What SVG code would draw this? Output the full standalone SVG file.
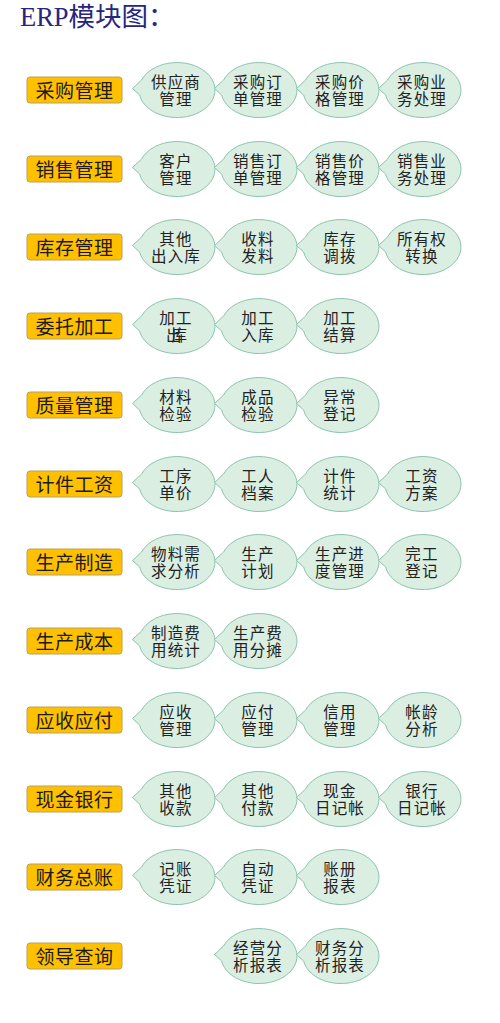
<svg xmlns="http://www.w3.org/2000/svg" xmlns:xlink="http://www.w3.org/1999/xlink" width="500" height="1023" viewBox="0 0 500 1023">
<style>
.title{font-family:"Liberation Serif","Noto Sans CJK SC",serif;font-size:26.5px;fill:#26267f}
.box{fill:#ffc000;stroke:#b9a060;stroke-width:1}
.bl{font-family:"Noto Sans CJK SC",sans-serif;font-size:19px;fill:#1a1a1a;text-anchor:middle;dominant-baseline:central;letter-spacing:0.5px}
.b{fill:#daeee2;stroke:#8cc4af;stroke-width:1}
.t{font-family:"Noto Sans CJK SC",sans-serif;font-size:15.5px;fill:#222;text-anchor:middle;dominant-baseline:central;letter-spacing:1.2px}
</style>
<defs>
<path id="bub" d="M -35.4,-10 A 38 27.5 0 1 1 -37.4,5 L -44.5,-1.5 Z"/>
<rect id="mbox" x="-47.5" y="-13" width="95" height="26" rx="3"/>
</defs>
<text class="title" x="20" y="26">ERP模块图：</text>

<g id="row1">
<g id="m1"><use xlink:href="#mbox" x="74.5" y="90" class="box"/><text class="bl" x="74.5" y="89">采购管理</text></g>
<g id="n1-1"><use xlink:href="#bub" x="177" y="90" class="b"/><text class="t" x="176" y="80.5">供应商</text><text class="t" x="176" y="97.5">管理</text></g>
<g id="n1-2"><use xlink:href="#bub" x="259" y="90" class="b"/><text class="t" x="258" y="80.5">采购订</text><text class="t" x="258" y="97.5">单管理</text></g>
<g id="n1-3"><use xlink:href="#bub" x="341" y="90" class="b"/><text class="t" x="340" y="80.5">采购价</text><text class="t" x="340" y="97.5">格管理</text></g>
<g id="n1-4"><use xlink:href="#bub" x="423" y="90" class="b"/><text class="t" x="422" y="80.5">采购业</text><text class="t" x="422" y="97.5">务处理</text></g>
</g>

<g id="row2">
<g id="m2"><use xlink:href="#mbox" x="74.5" y="169" class="box"/><text class="bl" x="74.5" y="168">销售管理</text></g>
<g id="n2-1"><use xlink:href="#bub" x="177" y="169" class="b"/><text class="t" x="176" y="159.5">客户</text><text class="t" x="176" y="176.5">管理</text></g>
<g id="n2-2"><use xlink:href="#bub" x="259" y="169" class="b"/><text class="t" x="258" y="159.5">销售订</text><text class="t" x="258" y="176.5">单管理</text></g>
<g id="n2-3"><use xlink:href="#bub" x="341" y="169" class="b"/><text class="t" x="340" y="159.5">销售价</text><text class="t" x="340" y="176.5">格管理</text></g>
<g id="n2-4"><use xlink:href="#bub" x="423" y="169" class="b"/><text class="t" x="422" y="159.5">销售业</text><text class="t" x="422" y="176.5">务处理</text></g>
</g>

<g id="row3">
<g id="m3"><use xlink:href="#mbox" x="74.5" y="247" class="box"/><text class="bl" x="74.5" y="246">库存管理</text></g>
<g id="n3-1"><use xlink:href="#bub" x="177" y="247" class="b"/><text class="t" x="176" y="237.5">其他</text><text class="t" x="176" y="254.5">出入库</text></g>
<g id="n3-2"><use xlink:href="#bub" x="259" y="247" class="b"/><text class="t" x="258" y="237.5">收料</text><text class="t" x="258" y="254.5">发料</text></g>
<g id="n3-3"><use xlink:href="#bub" x="341" y="247" class="b"/><text class="t" x="340" y="237.5">库存</text><text class="t" x="340" y="254.5">调拨</text></g>
<g id="n3-4"><use xlink:href="#bub" x="423" y="247" class="b"/><text class="t" x="422" y="237.5">所有权</text><text class="t" x="422" y="254.5">转换</text></g>
</g>

<g id="row4">
<g id="m4"><use xlink:href="#mbox" x="74.5" y="326" class="box"/><text class="bl" x="74.5" y="325">委托加工</text></g>
<g id="n4-1"><use xlink:href="#bub" x="177" y="326" class="b"/><text class="t" x="176" y="316.5">加工</text><text class="t" x="166" y="333.5" style="text-anchor:start;letter-spacing:-10px">出库</text></g>
<g id="n4-2"><use xlink:href="#bub" x="259" y="326" class="b"/><text class="t" x="258" y="316.5">加工</text><text class="t" x="258" y="333.5">入库</text></g>
<g id="n4-3"><use xlink:href="#bub" x="341" y="326" class="b"/><text class="t" x="340" y="316.5">加工</text><text class="t" x="340" y="333.5">结算</text></g>
</g>

<g id="row5">
<g id="m5"><use xlink:href="#mbox" x="74.5" y="405" class="box"/><text class="bl" x="74.5" y="404">质量管理</text></g>
<g id="n5-1"><use xlink:href="#bub" x="177" y="405" class="b"/><text class="t" x="176" y="395.5">材料</text><text class="t" x="176" y="412.5">检验</text></g>
<g id="n5-2"><use xlink:href="#bub" x="259" y="405" class="b"/><text class="t" x="258" y="395.5">成品</text><text class="t" x="258" y="412.5">检验</text></g>
<g id="n5-3"><use xlink:href="#bub" x="341" y="405" class="b"/><text class="t" x="340" y="395.5">异常</text><text class="t" x="340" y="412.5">登记</text></g>
</g>

<g id="row6">
<g id="m6"><use xlink:href="#mbox" x="74.5" y="484" class="box"/><text class="bl" x="74.5" y="483">计件工资</text></g>
<g id="n6-1"><use xlink:href="#bub" x="177" y="484" class="b"/><text class="t" x="176" y="474.5">工序</text><text class="t" x="176" y="491.5">单价</text></g>
<g id="n6-2"><use xlink:href="#bub" x="259" y="484" class="b"/><text class="t" x="258" y="474.5">工人</text><text class="t" x="258" y="491.5">档案</text></g>
<g id="n6-3"><use xlink:href="#bub" x="341" y="484" class="b"/><text class="t" x="340" y="474.5">计件</text><text class="t" x="340" y="491.5">统计</text></g>
<g id="n6-4"><use xlink:href="#bub" x="423" y="484" class="b"/><text class="t" x="422" y="474.5">工资</text><text class="t" x="422" y="491.5">方案</text></g>
</g>

<g id="row7">
<g id="m7"><use xlink:href="#mbox" x="74.5" y="562" class="box"/><text class="bl" x="74.5" y="561">生产制造</text></g>
<g id="n7-1"><use xlink:href="#bub" x="177" y="562" class="b"/><text class="t" x="176" y="552.5">物料需</text><text class="t" x="176" y="569.5">求分析</text></g>
<g id="n7-2"><use xlink:href="#bub" x="259" y="562" class="b"/><text class="t" x="258" y="552.5">生产</text><text class="t" x="258" y="569.5">计划</text></g>
<g id="n7-3"><use xlink:href="#bub" x="341" y="562" class="b"/><text class="t" x="340" y="552.5">生产进</text><text class="t" x="340" y="569.5">度管理</text></g>
<g id="n7-4"><use xlink:href="#bub" x="423" y="562" class="b"/><text class="t" x="422" y="552.5">完工</text><text class="t" x="422" y="569.5">登记</text></g>
</g>

<g id="row8">
<g id="m8"><use xlink:href="#mbox" x="74.5" y="641" class="box"/><text class="bl" x="74.5" y="640">生产成本</text></g>
<g id="n8-1"><use xlink:href="#bub" x="177" y="641" class="b"/><text class="t" x="176" y="631.5">制造费</text><text class="t" x="176" y="648.5">用统计</text></g>
<g id="n8-2"><use xlink:href="#bub" x="259" y="641" class="b"/><text class="t" x="258" y="631.5">生产费</text><text class="t" x="258" y="648.5">用分摊</text></g>
</g>

<g id="row9">
<g id="m9"><use xlink:href="#mbox" x="74.5" y="720" class="box"/><text class="bl" x="74.5" y="719">应收应付</text></g>
<g id="n9-1"><use xlink:href="#bub" x="177" y="720" class="b"/><text class="t" x="176" y="710.5">应收</text><text class="t" x="176" y="727.5">管理</text></g>
<g id="n9-2"><use xlink:href="#bub" x="259" y="720" class="b"/><text class="t" x="258" y="710.5">应付</text><text class="t" x="258" y="727.5">管理</text></g>
<g id="n9-3"><use xlink:href="#bub" x="341" y="720" class="b"/><text class="t" x="340" y="710.5">信用</text><text class="t" x="340" y="727.5">管理</text></g>
<g id="n9-4"><use xlink:href="#bub" x="423" y="720" class="b"/><text class="t" x="422" y="710.5">帐龄</text><text class="t" x="422" y="727.5">分析</text></g>
</g>

<g id="row10">
<g id="m10"><use xlink:href="#mbox" x="74.5" y="799" class="box"/><text class="bl" x="74.5" y="798">现金银行</text></g>
<g id="n10-1"><use xlink:href="#bub" x="177" y="799" class="b"/><text class="t" x="176" y="789.5">其他</text><text class="t" x="176" y="806.5">收款</text></g>
<g id="n10-2"><use xlink:href="#bub" x="259" y="799" class="b"/><text class="t" x="258" y="789.5">其他</text><text class="t" x="258" y="806.5">付款</text></g>
<g id="n10-3"><use xlink:href="#bub" x="341" y="799" class="b"/><text class="t" x="340" y="789.5">现金</text><text class="t" x="340" y="806.5">日记帐</text></g>
<g id="n10-4"><use xlink:href="#bub" x="423" y="799" class="b"/><text class="t" x="422" y="789.5">银行</text><text class="t" x="422" y="806.5">日记帐</text></g>
</g>

<g id="row11">
<g id="m11"><use xlink:href="#mbox" x="74.5" y="877" class="box"/><text class="bl" x="74.5" y="876">财务总账</text></g>
<g id="n11-1"><use xlink:href="#bub" x="177" y="877" class="b"/><text class="t" x="176" y="867.5">记账</text><text class="t" x="176" y="884.5">凭证</text></g>
<g id="n11-2"><use xlink:href="#bub" x="259" y="877" class="b"/><text class="t" x="258" y="867.5">自动</text><text class="t" x="258" y="884.5">凭证</text></g>
<g id="n11-3"><use xlink:href="#bub" x="341" y="877" class="b"/><text class="t" x="340" y="867.5">账册</text><text class="t" x="340" y="884.5">报表</text></g>
</g>

<g id="row12">
<g id="m12"><use xlink:href="#mbox" x="74.5" y="956" class="box"/><text class="bl" x="74.5" y="955">领导查询</text></g>
<g id="n12-2"><use xlink:href="#bub" x="259" y="956" class="b"/><text class="t" x="258" y="946.5">经营分</text><text class="t" x="258" y="963.5">析报表</text></g>
<g id="n12-3"><use xlink:href="#bub" x="341" y="956" class="b"/><text class="t" x="340" y="946.5">财务分</text><text class="t" x="340" y="963.5">析报表</text></g>
</g>
</svg>
